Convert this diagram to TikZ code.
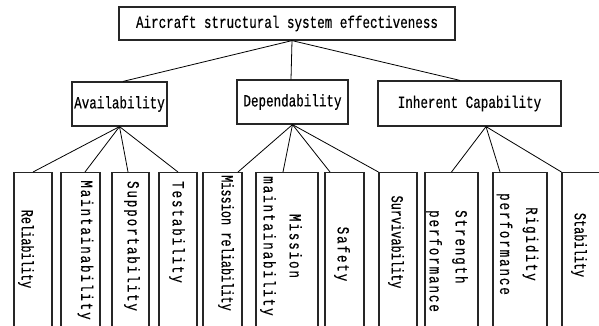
\documentclass[tikz,border=0pt]{standalone}
\usepackage{fontspec}
\setmonofont[FakeStretch=0.74,FakeBold=0.4]{Liberation Mono}
\newfontfamily\tight[FakeStretch=0.70,FakeBold=0.4]{Liberation Mono}
\newfontfamily\spaced[FakeStretch=0.74,FakeBold=0.4,LetterSpace=11]{Liberation Mono}

\begin{document}
\begin{tikzpicture}[x=1pt,y=-1pt,
  box/.style={draw=black!85,line width=1.2pt,inner sep=0pt,font=\fontsize{17}{20}\selectfont\ttfamily},
  leaf/.style={box,minimum width=#1,minimum height=170pt,anchor=north},
  tag/.style={rotate=-90,inner sep=0pt,font=\fontsize{17}{26}\selectfont\tight},
  wide/.style={tag,font=\fontsize{17}{26}\selectfont\spaced},
  edge/.style={line width=0.8pt}]
\useasboundingbox (0,0) rectangle (599,325);
\clip (0,0) rectangle (599,325);

\node[box,minimum width=336pt,minimum height=33pt] (top) at (287,23.5) {Aircraft structural system effectiveness};
\node[box,minimum width=95pt,minimum height=44pt] (avail) at (119.5,104) {Availability};
\node[box,minimum width=111pt,minimum height=44pt] (dep) at (292.5,102) {Dependability};
\node[box,minimum width=183pt,minimum height=45pt] (inh) at (469.5,103.5) {Inherent Capability};

\node[leaf=38pt] (rel) at (33,172) {};
\node[leaf=39pt] (maint) at (80.5,172) {};
\node[leaf=37pt] (supp) at (130.5,172) {};
\node[leaf=38pt] (test) at (178,172) {};
\node[leaf=39pt] (mrel) at (222.5,172) {};
\node[leaf=62pt] (mmaint) at (287,172) {};
\node[leaf=39pt] (safe) at (344.5,172) {};
\node[leaf=38pt] (surv) at (398,172) {};
\node[leaf=53pt] (str) at (451.5,172) {};
\node[leaf=54pt] (rig) at (520,172) {};
\node[leaf=60pt] (stab) at (592,172) {};

\node[tag] (relt) at (26,249) {Reliability};
\node[wide] (maintt) at (85.5,250) {Maintainability};
\node[wide] (suppt) at (132,246) {Supportability};
\node[wide] (testt) at (177,232) {Testability};
\node[tag] (mrelt) at (226,243) {Mission reliability};
\node[wide,align=center] (mmaintt) at (281,246) {Mission\\maintainability};
\node[wide] (safet) at (342,254) {Safety};
\node[tag] (survt) at (396,242) {Survivability};
\node[wide,align=left] (strt) at (447,261) {Strength\\performance};
\node[wide,align=center] (rigt) at (517.5,244) {Rigidity\\performance};
\node[tag] (stabt) at (579,245) {Stability};

\draw[edge] ([xshift=5pt]top.south) -- ([xshift=3.5pt]avail.north);
\draw[edge] ([xshift=5pt]top.south) -- ([xshift=-1.5pt]dep.north);
\draw[edge] ([xshift=5pt]top.south) -- ([xshift=-9.5pt]inh.north);

\draw[edge] (avail.south) -- (rel.north);
\draw[edge] (avail.south) -- ([xshift=4.5pt]maint.north);
\draw[edge] (avail.south) -- ([xshift=-2.5pt]supp.north);
\draw[edge] (avail.south) -- (test.north);

\draw[edge] (dep.south) -- ([xshift=15.5pt]mrel.north);
\draw[edge] (dep.south) -- ([xshift=-4pt]mmaint.north);
\draw[edge] (dep.south) -- ([xshift=-14.5pt]safe.north);
\draw[edge] (dep.south) -- (surv.north west);

\draw[edge] ([xshift=16.5pt]inh.south) -- (str.north);
\draw[edge] ([xshift=16.5pt]inh.south) -- ([xshift=-20pt]rig.north);
\draw[edge] ([xshift=16.5pt]inh.south) -- (stab.north west);
\end{tikzpicture}
\end{document}
